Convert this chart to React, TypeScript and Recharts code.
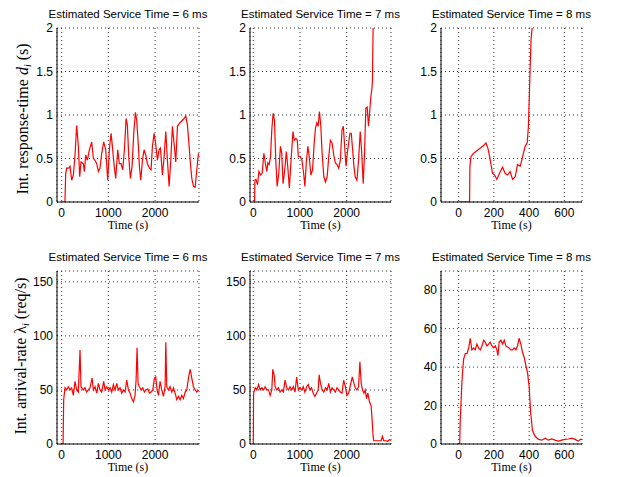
import React from "react";
import { LineChart, Line, XAxis, YAxis, CartesianGrid } from "recharts";

// --- data (time in s) ---
const rt6Time = [0, 70, 86, 107, 150, 180, 214, 250, 286, 321, 357, 386, 414, 464, 486, 514, 550, 593, 643, 679, 714, 750, 786, 821, 857, 900, 943, 986, 1021, 1057, 1086, 1121, 1157, 1200, 1236, 1271, 1307, 1343, 1379, 1407, 1436, 1471, 1507, 1543, 1579, 1607, 1643, 1664, 1693, 1729, 1764, 1800, 1836, 1879, 1914, 1943, 1979, 2014, 2050, 2086, 2114, 2157, 2193, 2229, 2264, 2300, 2336, 2371, 2407, 2443, 2479, 2514, 2550, 2586, 2621, 2657, 2693, 2729, 2757, 2786, 2821, 2857, 2893, 2929];
const rt6Value = [0, 0, 0.32, 0.39, 0.39, 0.41, 0.25, 0.31, 0.54, 0.88, 0.64, 0.29, 0.46, 0.44, 0.35, 0.54, 0.48, 0.6, 0.69, 0.5, 0.48, 0.44, 0.35, 0.39, 0.56, 0.69, 0.6, 0.25, 0.6, 0.79, 0.64, 0.43, 0.27, 0.6, 0.44, 0.44, 0.37, 0.6, 0.96, 0.88, 0.52, 0.27, 0.41, 0.79, 1.03, 0.94, 0.64, 0.41, 0.25, 0.48, 0.6, 0.54, 0.44, 0.39, 0.37, 0.64, 0.79, 0.66, 0.48, 0.6, 0.62, 0.31, 0.52, 0.81, 0.48, 0.18, 0.48, 0.87, 0.67, 0.46, 0.87, 0.9, 0.92, 0.94, 0.96, 0.99, 0.88, 0.64, 0.44, 0.27, 0.18, 0.17, 0.37, 0.56];

const rt7Time = [0, 28, 35, 57, 92, 121, 156, 191, 227, 255, 291, 312, 340, 369, 397, 425, 454, 482, 511, 546, 582, 610, 638, 674, 709, 738, 773, 809, 851, 879, 915, 943, 965, 1007, 1043, 1078, 1106, 1135, 1170, 1199, 1234, 1270, 1305, 1333, 1362, 1390, 1418, 1447, 1475, 1511, 1546, 1582, 1617, 1652, 1688, 1723, 1759, 1794, 1830, 1865, 1901, 1929, 1957, 1986, 2014, 2043, 2071, 2099, 2128, 2156, 2184, 2220, 2255, 2291, 2319, 2355, 2383, 2411, 2440, 2468, 2496, 2518, 2539, 2553, 2560, 2567, 2580];
const rt7Value = [0, 0, 0.25, 0.26, 0.2, 0.35, 0.31, 0.33, 0.56, 0.46, 0.35, 0.45, 0.43, 0.52, 0.83, 1.02, 0.94, 0.48, 0.18, 0.33, 0.64, 0.56, 0.21, 0.37, 0.58, 0.41, 0.16, 0.48, 0.81, 0.71, 0.73, 0.71, 0.52, 0.52, 0.48, 0.33, 0.18, 0.45, 0.64, 0.52, 0.31, 0.37, 0.68, 0.85, 0.91, 0.87, 1.04, 0.87, 0.56, 0.29, 0.23, 0.29, 0.52, 0.71, 0.68, 0.54, 0.45, 0.43, 0.39, 0.48, 0.83, 0.87, 0.64, 0.41, 0.56, 0.68, 0.79, 0.79, 0.6, 0.41, 0.29, 0.25, 0.48, 0.81, 0.6, 0.21, 0.56, 1.08, 1.09, 0.87, 1.06, 1.21, 1.29, 1.39, 1.73, 2.0, 2.6];

const rt8Time = [0, 62, 64, 70, 85, 104, 123, 142, 155, 166, 179, 192, 204, 217, 232, 249, 264, 277, 292, 306, 321, 334, 349, 362, 377, 389, 396, 406, 411, 417, 425];
const rt8Value = [0, 0, 0.41, 0.52, 0.56, 0.59, 0.62, 0.65, 0.68, 0.62, 0.49, 0.33, 0.31, 0.26, 0.33, 0.4, 0.33, 0.31, 0.35, 0.26, 0.29, 0.43, 0.41, 0.51, 0.64, 0.68, 0.87, 1.56, 1.87, 2.0, 2.5];

const ar6Time = [0, 30, 43, 71, 107, 143, 179, 214, 250, 286, 321, 357, 393, 414, 464, 500, 536, 571, 607, 650, 679, 714, 750, 786, 821, 857, 900, 929, 964, 1000, 1036, 1071, 1107, 1143, 1179, 1214, 1250, 1286, 1321, 1357, 1393, 1429, 1464, 1500, 1536, 1571, 1593, 1614, 1636, 1664, 1700, 1736, 1771, 1807, 1843, 1879, 1914, 1950, 1986, 2014, 2043, 2071, 2107, 2143, 2179, 2214, 2229, 2250, 2286, 2321, 2357, 2393, 2429, 2464, 2500, 2536, 2571, 2607, 2643, 2679, 2714, 2750, 2786, 2821, 2857, 2893, 2929];
const ar6Value = [0, 0, 41, 52, 50, 53, 50, 52, 45, 58, 50, 48, 87, 53, 50, 52, 48, 50, 52, 61, 50, 53, 47, 56, 50, 48, 58, 50, 53, 50, 52, 48, 55, 50, 56, 50, 52, 47, 50, 48, 59, 50, 47, 42, 39, 45, 59, 89, 56, 53, 50, 52, 48, 50, 51, 47, 48, 50, 61, 62, 50, 45, 58, 50, 44, 53, 94, 53, 50, 53, 48, 52, 47, 41, 44, 41, 45, 42, 48, 50, 61, 69, 61, 53, 50, 48, 50];

const ar7Time = [0, 0, 7, 43, 78, 113, 149, 184, 220, 255, 291, 326, 362, 397, 418, 447, 468, 504, 539, 574, 610, 645, 681, 716, 752, 787, 823, 858, 894, 929, 965, 1000, 1035, 1071, 1106, 1142, 1177, 1213, 1248, 1284, 1319, 1355, 1390, 1411, 1440, 1475, 1511, 1546, 1582, 1617, 1652, 1688, 1723, 1759, 1794, 1830, 1865, 1901, 1936, 1972, 2007, 2043, 2121, 2156, 2184, 2220, 2255, 2284, 2312, 2340, 2369, 2397, 2426, 2454, 2489, 2525, 2546, 2567, 2582, 2631, 2702, 2738, 2766, 2794, 2844, 2879, 2915, 2950];
const ar7Value = [0, 0, 47, 52, 50, 55, 50, 52, 50, 53, 50, 50, 45, 50, 69, 64, 53, 50, 52, 48, 50, 48, 59, 52, 50, 53, 50, 53, 48, 62, 50, 52, 50, 53, 48, 53, 55, 50, 52, 47, 44, 47, 50, 64, 56, 50, 48, 52, 50, 56, 48, 52, 50, 48, 52, 50, 48, 47, 59, 53, 45, 47, 62, 56, 52, 50, 53, 76, 56, 50, 47, 50, 42, 47, 39, 35, 22, 7, 3, 3, 3, 3, 7, 3, 3, 2.5, 4, 3.4];

const ar8Time = [0, 6, 9, 19, 28, 38, 47, 57, 66, 75, 85, 94, 104, 113, 123, 132, 142, 151, 160, 170, 179, 189, 198, 208, 217, 223, 230, 240, 249, 259, 268, 287, 296, 306, 315, 325, 334, 343, 353, 362, 372, 381, 391, 400, 409, 419, 434, 453, 472, 491, 509, 528, 547, 566, 585, 604, 623, 642, 661, 679, 692, 700];
const ar8Value = [0, 0, 12, 33, 44, 47, 47, 50, 55, 49, 50, 49, 52, 50, 49, 51, 54, 53, 51, 52, 53, 51, 50, 51, 49, 46, 53, 54, 52, 54, 51, 50, 49, 49, 50, 49, 51, 55, 52, 48, 45, 41, 37, 30, 16, 7, 4, 2.4, 2, 3, 2, 2.6, 2, 1.5, 2, 2.4, 2.6, 3, 2.4, 1.5, 2.4, 2.4];

const xTicksLong = [0, 1000, 2000];
const xTicksShort = [0, 200, 400, 600];
const yTicksResp = [0, 0.5, 1, 1.5, 2];
const yTicksRate = [0, 50, 100, 150];
const yTicksRate8 = [0, 20, 40, 60, 80];

const zip = (t: number[], v: number[]) => t.map((x, i) => ({ t: x, v: v[i] }));

const SANS = "'Liberation Sans', Arial, Helvetica, sans-serif";
const SERIF = "'Liberation Serif', 'Times New Roman', serif";

const ML = 30;
const MT = 10;
const MR = 4;
const MB = 20;

interface PanelProps {
  x: number;
  y: number;
  w: number;
  h: number;
  title: string;
  data: { t: number; v: number }[];
  xDomain: [number, number];
  xTicks: number[];
  yDomain: [number, number];
  yTicks: number[];
}

const Panel: React.FC<PanelProps> = ({ x, y, w, h, title, data, xDomain, xTicks, yDomain, yTicks }) => {
  const tick = { fill: "#000", fontSize: 12, fontFamily: SANS };
  return (
    <>
      <div
        style={{
          position: "absolute",
          left: x - 40,
          top: y - 21,
          width: w + 80,
          textAlign: "center",
          fontFamily: SANS,
          fontSize: 11.5,
          lineHeight: "14px",
          color: "#000",
        }}
      >
        {title}
      </div>
      <div style={{ position: "absolute", left: x - ML, top: y - MT }}>
        <LineChart width={w + ML + MR} height={h + MT + MB} data={data} margin={{ top: MT, right: MR, bottom: 0, left: 0 }}>
          <CartesianGrid xAxisId="b" yAxisId="l" stroke="#000" strokeWidth={0.8} strokeDasharray="1 3" />
          <XAxis
            xAxisId="b"
            type="number"
            dataKey="t"
            domain={xDomain}
            ticks={xTicks}
            interval={0}
            allowDataOverflow
            height={MB}
            tickLine={false}
            tickSize={4}
            tickMargin={2}
            axisLine={{ stroke: "#000" }}
            tick={tick}
          />
          <XAxis
            xAxisId="top"
            orientation="top"
            type="number"
            dataKey="t"
            domain={xDomain}
            allowDataOverflow
            height={0}
            tick={false}
            tickLine={false}
            axisLine={{ stroke: "#000" }}
          />
          <YAxis
            yAxisId="l"
            type="number"
            domain={yDomain}
            ticks={yTicks}
            interval={0}
            allowDataOverflow
            width={ML}
            tickLine={false}
            tickSize={2}
            tickMargin={2}
            axisLine={{ stroke: "#000" }}
            tick={tick}
          />
          <YAxis
            yAxisId="r"
            orientation="right"
            type="number"
            domain={yDomain}
            allowDataOverflow
            width={0}
            tick={false}
            tickLine={false}
            axisLine={{ stroke: "#000" }}
          />
          <Line
            xAxisId="b"
            yAxisId="l"
            type="linear"
            dataKey="v"
            stroke="#ff0000"
            strokeWidth={1.2}
            dot={false}
            isAnimationActive={false}
          />
        </LineChart>
      </div>
      <div
        style={{
          position: "absolute",
          left: x,
          top: y + h + 16,
          width: w,
          textAlign: "center",
          fontFamily: SERIF,
          fontSize: 12,
          lineHeight: "14px",
          color: "#000",
        }}
      >
        Time (s)
      </div>
    </>
  );
};

const YLabel: React.FC<{ cx: number; cy: number; children: React.ReactNode }> = ({ cx, cy, children }) => (
  <div
    style={{
      position: "absolute",
      left: cx - 110,
      top: cy - 10,
      width: 220,
      height: 20,
      lineHeight: "20px",
      textAlign: "center",
      fontFamily: SERIF,
      fontSize: 16,
      color: "#000",
      transform: "rotate(-90deg)",
      whiteSpace: "nowrap",
    }}
  >
    {children}
  </div>
);

const subStyle: React.CSSProperties = { fontSize: 10, fontStyle: "italic", verticalAlign: "-3px", lineHeight: 0 };

export default function App() {
  return (
    <div style={{ position: "absolute", left: 0, top: 0, width: 618, height: 477, background: "#fff", overflow: "hidden" }}>
      <YLabel cx={23} cy={119}>
        Int. response-time <i>d</i>
        <span style={subStyle}>i</span> (s)
      </YLabel>
      <YLabel cx={21} cy={356}>
        Int. arrival-rate <span>λ</span>
        <span style={subStyle}>i</span> (req/s)
      </YLabel>

      <Panel x={57} y={28} w={142} h={174} title="Estimated Service Time = 6 ms" data={zip(rt6Time, rt6Value)} xDomain={[-100, 2940]} xTicks={xTicksLong} yDomain={[0, 2]} yTicks={yTicksResp} />
      <Panel x={250} y={28} w={141} h={174} title="Estimated Service Time = 7 ms" data={zip(rt7Time, rt7Value)} xDomain={[-70, 2950]} xTicks={xTicksLong} yDomain={[0, 2]} yTicks={yTicksResp} />
      <Panel x={441} y={28} w={141} h={174} title="Estimated Service Time = 8 ms" data={zip(rt8Time, rt8Value)} xDomain={[-100, 700]} xTicks={xTicksShort} yDomain={[0, 2]} yTicks={yTicksResp} />

      <Panel x={57} y={271} w={142} h={173} title="Estimated Service Time = 6 ms" data={zip(ar6Time, ar6Value)} xDomain={[-100, 2940]} xTicks={xTicksLong} yDomain={[0, 160]} yTicks={yTicksRate} />
      <Panel x={250} y={271} w={141} h={173} title="Estimated Service Time = 7 ms" data={zip(ar7Time, ar7Value)} xDomain={[-70, 2950]} xTicks={xTicksLong} yDomain={[0, 160]} yTicks={yTicksRate} />
      <Panel x={441} y={271} w={141} h={173} title="Estimated Service Time = 8 ms" data={zip(ar8Time, ar8Value)} xDomain={[-100, 700]} xTicks={xTicksShort} yDomain={[0, 90]} yTicks={yTicksRate8} />
    </div>
  );
}
